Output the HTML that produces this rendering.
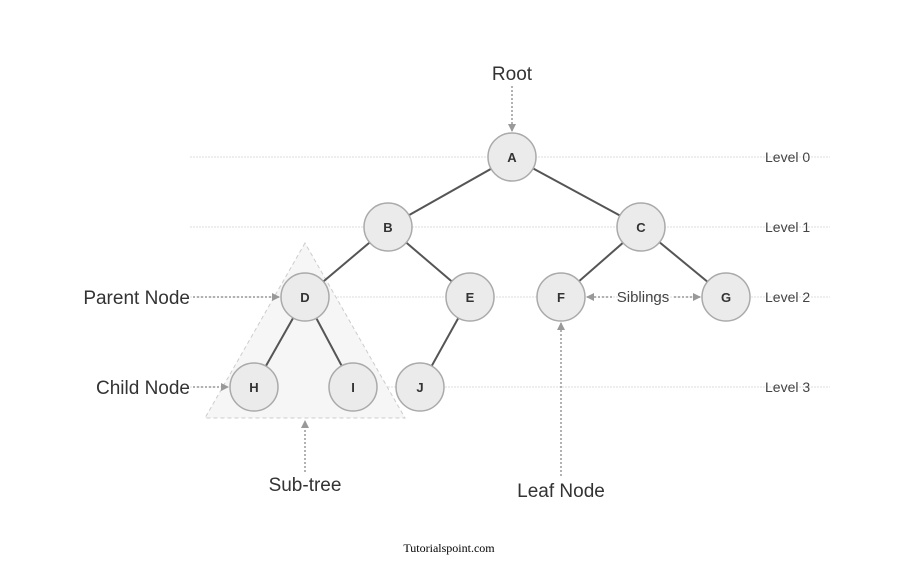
<!DOCTYPE html>
<html><head><style>body{margin:0;background:#fff}</style></head><body>
<svg width="898" height="567" viewBox="0 0 898 567" xmlns="http://www.w3.org/2000/svg" font-family="Liberation Sans, sans-serif">
<defs>
<marker id="ar" markerWidth="8" markerHeight="8" refX="7" refY="4" orient="auto" markerUnits="userSpaceOnUse"><path d="M0,0 L8,4 L0,8 z" fill="#999"/></marker>
</defs>
<g stroke="#ddd" stroke-width="1" stroke-dasharray="2,1">
<line x1="190" y1="157" x2="830" y2="157"/>
<line x1="190" y1="227" x2="830" y2="227"/>
<line x1="190" y1="297" x2="830" y2="297"/>
<line x1="190" y1="387" x2="830" y2="387"/>
</g>
<polygon points="305,243 205,418 405,418" fill="#f6f6f6" stroke="#ccc" stroke-dasharray="4,3"/>
<g stroke="#555" stroke-width="2">
<line x1="512" y1="157" x2="388" y2="227"/><line x1="512" y1="157" x2="641" y2="227"/>
<line x1="388" y1="227" x2="305" y2="297"/><line x1="388" y1="227" x2="470" y2="297"/>
<line x1="641" y1="227" x2="561" y2="297"/><line x1="641" y1="227" x2="726" y2="297"/>
<line x1="305" y1="297" x2="254" y2="387"/><line x1="305" y1="297" x2="353" y2="387"/>
<line x1="470" y1="297" x2="420" y2="387"/>
</g>
<g fill="#ebebeb" stroke="#aaa" stroke-width="1.5">
<circle cx="512" cy="157" r="24"/><circle cx="388" cy="227" r="24"/><circle cx="641" cy="227" r="24"/>
<circle cx="305" cy="297" r="24"/><circle cx="470" cy="297" r="24"/><circle cx="561" cy="297" r="24"/><circle cx="726" cy="297" r="24"/>
<circle cx="254" cy="387" r="24"/><circle cx="353" cy="387" r="24"/><circle cx="420" cy="387" r="24"/>
</g>
<g font-size="13" font-weight="bold" fill="#333" text-anchor="middle">
<text x="512" y="162">A</text><text x="388" y="232">B</text><text x="641" y="232">C</text>
<text x="305" y="302">D</text><text x="470" y="302">E</text><text x="561" y="302">F</text><text x="726" y="302">G</text>
<text x="254" y="392">H</text><text x="353" y="392">I</text><text x="420" y="392">J</text>
</g>
<g stroke="#999" stroke-width="1.5" stroke-dasharray="2,2" fill="none" marker-end="url(#ar)">
<line x1="512" y1="86" x2="512" y2="131"/>
<line x1="193" y1="297" x2="279" y2="297"/>
<line x1="193" y1="387" x2="228" y2="387"/>
<line x1="305" y1="472" x2="305" y2="421"/>
<line x1="561" y1="476" x2="561" y2="323"/>
<line x1="612" y1="297" x2="587" y2="297"/>
<line x1="674" y1="297" x2="700" y2="297"/>
</g>
<g fill="#333" font-size="19">
<text x="512" y="80" text-anchor="middle">Root</text>
<text x="190" y="304" text-anchor="end">Parent Node</text>
<text x="190" y="394" text-anchor="end">Child Node</text>
<text x="305" y="491" text-anchor="middle">Sub-tree</text>
<text x="561" y="497" text-anchor="middle">Leaf Node</text>
</g>
<text x="643" y="302" font-size="15" fill="#444" text-anchor="middle">Siblings</text>
<g font-size="14" fill="#444">
<text x="765" y="162">Level 0</text><text x="765" y="232">Level 1</text>
<text x="765" y="302">Level 2</text><text x="765" y="392">Level 3</text>
</g>
<text x="449" y="552" font-family="Liberation Serif, serif" font-size="12" fill="#000" text-anchor="middle">Tutorialspoint.com</text>
</svg>
</body></html>
